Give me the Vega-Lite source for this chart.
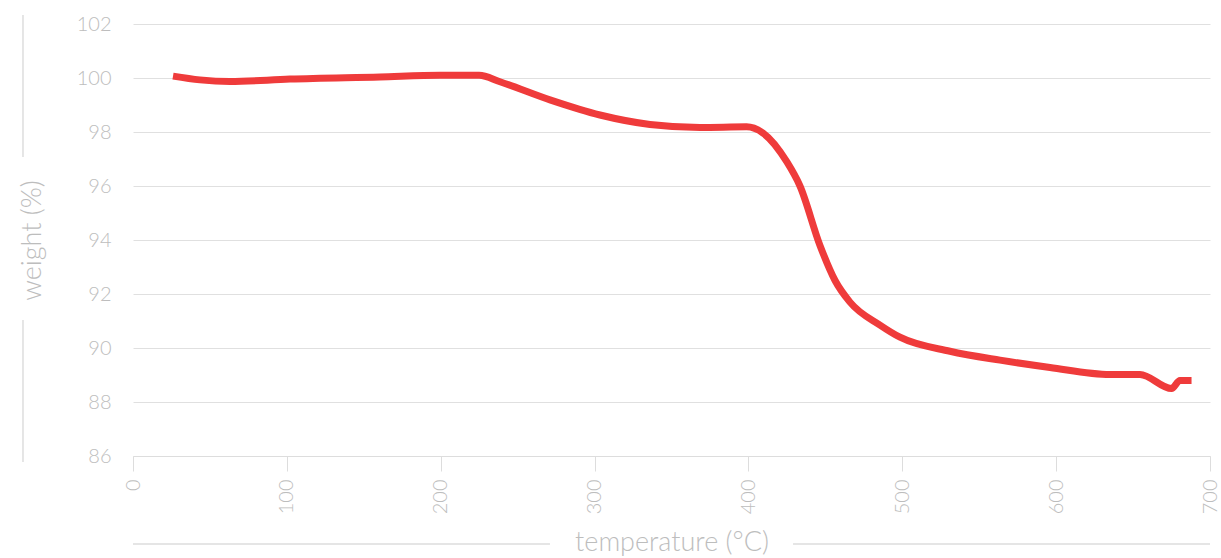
{
  "$schema": "https://vega.github.io/schema/vega-lite/v6.json",
  "autosize": "none",
  "width": 1077,
  "height": 432,
  "padding": {"left": 133, "top": 24, "right": 11, "bottom": 102},
  "background": "white",
  "config": {
    "view": {"stroke": null},
    "font": "Lato",
    "axis": {
      "labelFont": "Lato",
      "titleFont": "Lato",
      "labelFontWeight": 300,
      "titleFontWeight": 300,
      "labelColor": "#bdbdbd",
      "titleColor": "#bdbdbd",
      "labelFontSize": 20,
      "titleFontSize": 27
    }
  },
  "datasets": {
    "curve": [
      {"t": 26, "w": 100.07},
      {"t": 43.5, "w": 99.93},
      {"t": 63, "w": 99.87},
      {"t": 102, "w": 99.96},
      {"t": 160.5, "w": 100.04},
      {"t": 199.5, "w": 100.1},
      {"t": 225, "w": 100.1},
      {"t": 238.5, "w": 99.86},
      {"t": 271, "w": 99.19},
      {"t": 303.5, "w": 98.63},
      {"t": 336, "w": 98.28},
      {"t": 368.5, "w": 98.17},
      {"t": 398.8, "w": 98.19},
      {"t": 409.5, "w": 97.96},
      {"t": 424.9, "w": 96.9},
      {"t": 433.5, "w": 96.0},
      {"t": 446.5, "w": 93.8},
      {"t": 456.3, "w": 92.5},
      {"t": 466, "w": 91.7},
      {"t": 485.5, "w": 90.85},
      {"t": 498.5, "w": 90.4},
      {"t": 531, "w": 89.88},
      {"t": 563.5, "w": 89.55},
      {"t": 596, "w": 89.28},
      {"t": 635, "w": 89.02},
      {"t": 654.5, "w": 89.02},
      {"t": 675, "w": 88.5},
      {"t": 680.5, "w": 88.8},
      {"t": 688, "w": 88.8}
    ],
    "deco": [
      {"t": -71.5, "t2": -71.5, "w": 102.33, "w2": 97.07},
      {"t": -71.5, "t2": -71.5, "w": 91.04, "w2": 85.78},
      {"t": 0, "t2": 271, "w": 82.74, "w2": 82.74},
      {"t": 429, "t2": 700, "w": 82.74, "w2": 82.74}
    ]
  },
  "encoding": {
    "x": {
      "field": "t",
      "type": "quantitative",
      "scale": {"domain": [0, 700], "nice": false, "zero": false},
      "axis": {
        "title": "temperature (°C)",
        "values": [0, 100, 200, 300, 400, 500, 600, 700],
        "grid": false,
        "domain": true,
        "domainColor": "#dddddd",
        "ticks": true,
        "tickColor": "#dddddd",
        "tickSize": 15,
        "labelAngle": 270,
        "labelPadding": 8,
        "titlePadding": 16
      }
    },
    "y": {
      "field": "w",
      "type": "quantitative",
      "scale": {"domain": [86, 102], "nice": false, "zero": false},
      "axis": {
        "title": "weight (%)",
        "values": [86, 88, 90, 92, 94, 96, 98, 100, 102],
        "grid": true,
        "gridColor": "#e0e0e0",
        "domain": false,
        "ticks": false,
        "labelPadding": 22,
        "titlePadding": 30
      }
    }
  },
  "layer": [
    {
      "data": {"name": "deco"},
      "mark": {"type": "rule", "color": "#dddddd", "strokeWidth": 1.5},
      "encoding": {
        "x2": {"field": "t2"},
        "y2": {"field": "w2"}
      }
    },
    {
      "data": {"name": "curve"},
      "mark": {"type": "line", "color": "#ef3b3b", "strokeWidth": 7, "interpolate": "monotone", "strokeCap": "butt"}
    }
  ]
}
